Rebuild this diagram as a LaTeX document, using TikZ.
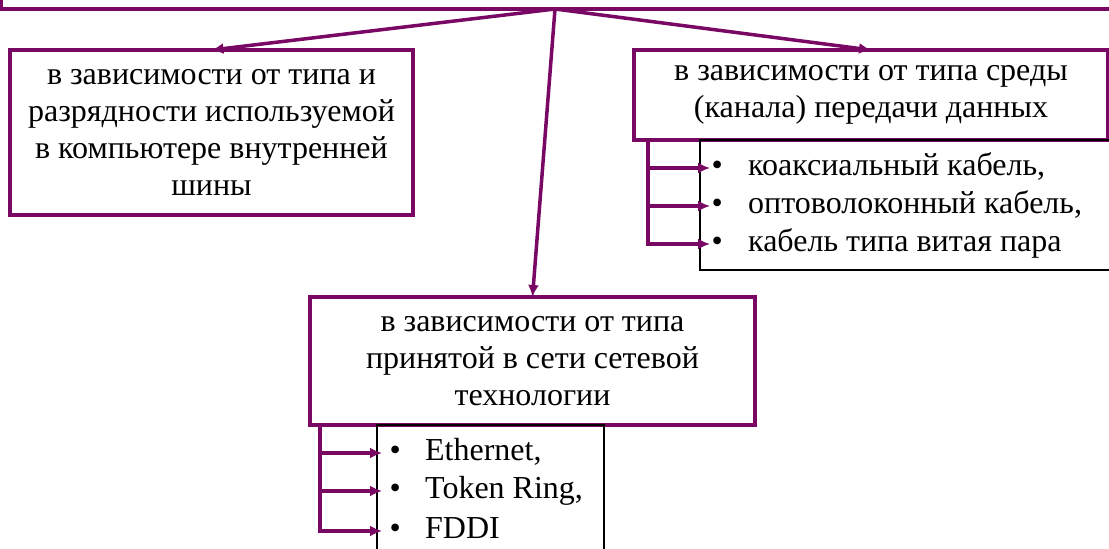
\documentclass[tikz,border=0pt]{standalone}
\usepackage{fontspec}
\setmainfont{Liberation Serif}
\usetikzlibrary{arrows.meta}
\definecolor{plum}{RGB}{120,8,100}
\tikzset{
  box/.style={draw=plum,line width=3.5pt,outer sep=0pt,align=center,
    font=\fontsize{32}{37}\selectfont},
  listbox/.style={draw=black,line width=1.5pt,outer sep=0pt},
  item/.style={anchor=west,inner sep=0pt,text height=22pt,text depth=7pt,
    font=\fontsize{32}{37}\selectfont},
  link/.style={draw=plum,line width=3.5pt,-{Latex[length=12pt,width=11pt]}}
}
\begin{document}
\begin{tikzpicture}[x=1pt,y=-1pt]
\useasboundingbox (0,0) rectangle (1109,549);
\fill[white] (0,0) rectangle (1109,549);
\clip (0,0) rectangle (1109,549);
% boxes
\node[box,minimum width=1200pt,minimum height=60pt,anchor=south west] (top) at (1,9) {};
\coordinate (hub) at (555,9);
\node[box,minimum width=403pt,minimum height=165pt] (bus) at (211.5,132.5)
  {в зависимости от типа и\\разрядности используемой\\в компьютере внутренней\\шины};
\node[box,minimum width=474pt,minimum height=90pt] (medium) at (871,95)
  {в зависимости от типа среды\\(канала) передачи данных};
\node[box,minimum width=445pt,minimum height=128pt] (tech) at (532.5,361)
  {в зависимости от типа\\принятой в сети сетевой\\технологии};
% lists
\node[listbox,minimum width=420pt,minimum height=130pt,anchor=north west] (mlist) at (700,140) {};
\node[listbox,minimum width=227pt,minimum height=140pt,anchor=north west] (tlist) at (377,425) {};
\node[item] (m1) at (710,168) {\makebox[14pt]{•}\hspace{24pt}коаксиальный кабель,};
\node[item] (m2) at (710,206) {\makebox[14pt]{•}\hspace{24pt}оптоволоконный кабель,};
\node[item] (m3) at (710,244) {\makebox[14pt]{•}\hspace{24pt}кабель типа витая пара};
\node[item] (t1) at (382,453) {\makebox[26pt]{•}\hspace{17pt}Ethernet,};
\node[item] (t2) at (382,491) {\makebox[26pt]{•}\hspace{17pt}Token Ring,};
\node[item] (t3) at (382,531) {\makebox[26pt]{•}\hspace{17pt}FDDI};
% arrows
\foreach \j in {bus,medium,tech} {
  \draw[link] (hub) -- (\j.north);
}
\coordinate (mb) at (648,140);
\coordinate (tb) at (320,425);
\foreach \i/\j in {mb/m1,mb/m2,mb/m3,tb/t1,tb/t2,tb/t3} {
  \draw[link] (\i) |- (\j.west);
}
\end{tikzpicture}
\end{document}
